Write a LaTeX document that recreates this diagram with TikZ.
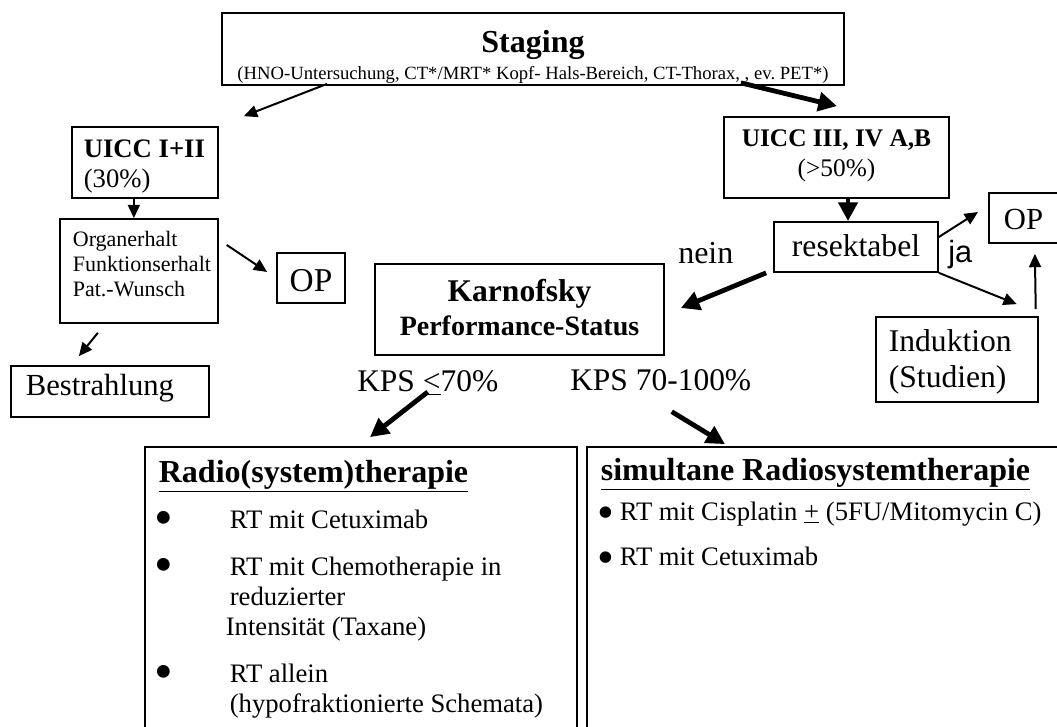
\documentclass[tikz,border=0pt]{standalone}
\usepackage{fontspec}
\setmainfont{Liberation Serif}
\newfontfamily\arialfont{Liberation Sans}
\usetikzlibrary{calc,arrows.meta}
\frenchspacing

\tikzset{
  box/.style={draw, line width=1.3pt, inner ysep=0pt},
  lbl/.style={anchor=base west, inner sep=0pt},
  thinarr/.style={line width=1.5pt, -{Triangle[length=10pt,width=9pt]}},
  thickarr/.style={line width=3.6pt, -{Triangle[length=14pt,width=14pt]}},
}

\newcommand{\fs}[2]{\fontsize{#1}{#2}\selectfont}
\newcommand{\bigdot}{\makebox[53.25pt][l]{\hspace{-3pt}\raisebox{-5.25pt}[0pt][0pt]{\fs{40}{40}\textbullet}}}
\newcommand{\smalldot}{\makebox[14.25pt][l]{\hspace{-2.5pt}\raisebox{-6pt}[0pt][0pt]{\fs{36}{36}\textbullet}}}

\begin{document}
\begin{tikzpicture}[x=0.75pt,y=-0.75pt]
\useasboundingbox[fill=white] (0,0) rectangle (1057,727);

% top
\node[box, anchor=base, inner xsep=0pt, text width=466.5pt, align=flush center,
      text height=30pt, text depth=24pt, font=\fs{14}{20.25}] (stag) at (533,53)
  {{\fs{24}{26}\bfseries Staging}\\(HNO-Untersuchung, CT*/MRT* Kopf- Hals-Bereich, CT-Thorax, , ev. PET*)};

% left branch
\node[box, anchor=base west, inner xsep=9pt, text width=91.5pt, align=flush left,
      text height=23.25pt, text depth=30pt, font=\fs{20}{22.5}] (uicc12) at (71,158)
  {\textbf{UICC~I+II}\\(30\%)};
\node[box, anchor=base west, inner xsep=9.75pt, text width=99pt, align=flush left,
      text height=21pt, text depth=57pt, font=\fs{16.5}{18.4}] (organ) at (59,247)
  {Organerhalt\\Funktionserhalt\\Pat.-Wunsch};
\node[box, anchor=base, inner xsep=0pt, text width=51pt, align=flush center,
      text height=29.25pt, text depth=8.25pt, font=\fs{25}{28}] (opL) at (311,292) {OP};
\node[box, anchor=base west, inner xsep=11.25pt, text width=126pt, align=flush left,
      text height=21.75pt, text depth=16.5pt, font=\fs{23}{26}] (bestr) at (10,395) {Bestrahlung};

% right branch
\node[box, anchor=base, inner xsep=0pt, text width=168.75pt, align=flush center,
      text height=22.5pt, text depth=38.25pt, font=\fs{19}{22.5}] (uicc3) at (836.5,147)
  {\textbf{UICC III, IV A,B}\\(>50\%)};
\node[box, anchor=base, inner xsep=0pt, text width=123pt, align=flush center,
      text height=26.25pt, text depth=11.25pt, font=\fs{23.7}{27}] (resek) at (856,257) {resektabel};
\node[box, anchor=base west, inner xsep=11.25pt, text width=39pt, align=flush left,
      text height=27.75pt, text depth=9.75pt, font=\fs{23}{26}] (opR) at (988,230) {OP};
\node[box, anchor=base west, inner xsep=9.75pt, text width=102pt, align=flush left,
      text height=26.25pt, text depth=37.5pt, font=\fs{23.7}{27}] (induk) at (875,352)
  {Induktion\\(Studien)};
\node[box, anchor=base, inner xsep=0pt, text width=216.75pt, align=flush center,
      text height=28.5pt, text depth=39.75pt, font=\fs{21}{25.5}\bfseries] (karn) at (519.5,302)
  {{\fs{23.7}{27}Karnofsky}\\Performance-Status};

\node[lbl, font=\fs{24}{27}] (nein) at (678,264) {nein};
\node[lbl, font=\arialfont\fs{23}{26}] (ja) at (948,263) {ja};
\node[lbl, font=\fs{23.6}{27}] (kps1) at (357,392) {KPS \underline{<}70\%};
\node[lbl, font=\fs{23.6}{27}] (kps2) at (570,390) {KPS 70-100\%};

% therapy boxes
\node[box, anchor=base west, inner xsep=10.5pt, text width=303pt, align=flush left,
      text height=26.25pt, text depth=225pt, font=\fs{20}{22.5}] (radio) at (144,482) {%
  {\fs{24}{26}\bfseries\underline{Radio(system)therapie}}\\[12pt]
  \bigdot RT mit Cetuximab\\[12.75pt]
  \bigdot RT mit Chemotherapie in\\
  \hspace*{53.25pt}reduzierter\\
  \hspace*{50.25pt}Intensität (Taxane)\\[12.75pt]
  \bigdot RT allein\\
  \hspace*{53.25pt}(hypofraktionierte Schemata)};
\node[box, anchor=base west, inner xsep=10.5pt, text width=342pt, align=flush left,
      text height=24.75pt, text depth=225pt, font=\fs{20}{22.5}] (simul) at (586,480) {%
  {\fs{24}{26}\bfseries\underline{simultane Radiosystemtherapie}}\\[7.5pt]
  \smalldot RT mit Cisplatin \underline{+} (5FU/Mitomycin C)\\[11.25pt]
  \smalldot RT mit Cetuximab};

% arrows
\draw[thinarr] ($(stag.south west)+(106,-2)$) -- ($(uicc12.north)+(99,-10)$);
\draw[thickarr] ($(stag.south east)+(-104,-3)$) -- ($(uicc3.north)+(0.5,-10)$);
\draw[thinarr] ($(uicc12.south)+(-11,0)$) -- ($(organ.north)+(-5,0)$);
\draw[thinarr] ($(organ.east)+(8,-26)$) -- ($(opL.west)+(-9,-6)$);
\draw[thinarr] ($(organ.south)+(-41,9)$) -- ($(bestr.north)+(-31,-9)$);
\draw[thickarr] ($(uicc3.south)+(11.5,0)$) -- ($(resek.north)+(-8,0)$);
\draw[thinarr] ($(resek.east)+(0,-10)$) -- ($(opR.west)+(-10,-6)$);
\draw[thinarr] (resek.south east) -- ($(induk.north east)+(-22,-12)$);
\draw[thinarr] ($(induk.north east)+(-3,-7)$) -- ($(opR.south)+(5,10)$);
\draw[thickarr] ($(resek.south west)+(-7,0)$) -- ($(karn.east)+(16,-1.5)$);
\draw[thickarr] ($(kps1.south)+(0,-3)$) -- ($(radio.north west)+(226,-9)$);
\draw[thickarr] ($(kps2.south)+(11,21)$) -- ($(simul.north west)+(139,-2)$);
\end{tikzpicture}
\end{document}
